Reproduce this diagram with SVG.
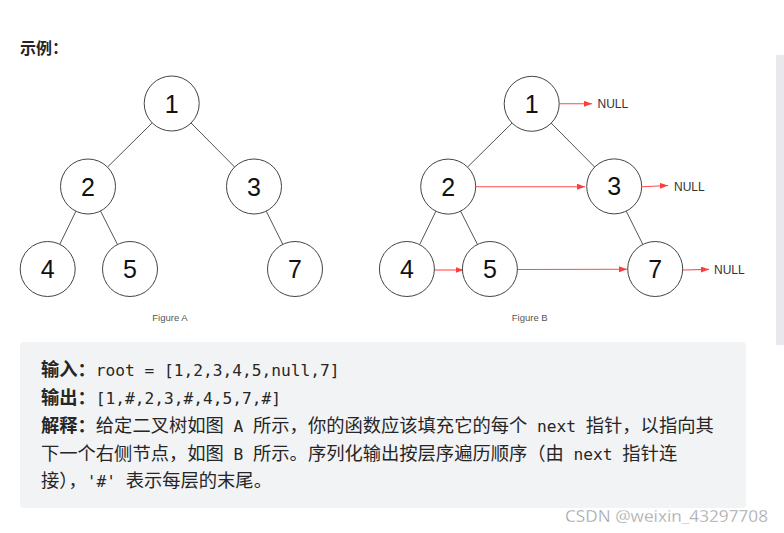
<svg xmlns="http://www.w3.org/2000/svg" width="784" height="533" viewBox="0 0 784 533">
<style>
.nd circle{fill:#fff;stroke:#444;stroke-width:1}
.nd text{font-family:"Liberation Sans",Arial,sans-serif;font-size:25px;fill:#111;text-anchor:middle}
.edge{stroke:#555;stroke-width:1;fill:none}
.nxt{stroke:#ff4d4d;stroke-width:1.1;fill:none;marker-end:url(#ah)}
.null{font-family:"Liberation Sans",Arial,sans-serif;font-size:12px;fill:#333}
.cap{font-family:"Liberation Sans",Arial,sans-serif;font-size:9.5px;fill:#555;text-anchor:middle}
.body{font-family:"Noto Sans CJK SC",sans-serif;font-size:18.3px;fill:#262626}
.b{font-weight:bold}
.m{font-family:"DejaVu Sans Mono","Liberation Mono",monospace;font-size:16.2px}
</style>
<defs>
<marker id="ah" viewBox="0 0 8 6" refX="8" refY="3" markerWidth="8" markerHeight="6" markerUnits="userSpaceOnUse" orient="auto">
<path d="M0,0 L8,3 L0,6 Z" fill="#ff3b3b"/>
</marker>
</defs>
<rect x="0" y="0" width="784" height="533" fill="#fff"/>
<rect x="776" y="55" width="8" height="290" fill="#e9e9ed"/>
<text x="20" y="53.5" font-family="'Noto Sans CJK SC',sans-serif" font-size="16" font-weight="bold" fill="#262626">示例：</text>

<g id="connectors">
<line class="edge" x1="152.2" y1="122.9" x2="107.5" y2="167.1"/>
<line class="edge" x1="191.1" y1="123" x2="234.6" y2="167"/>
<line class="edge" x1="75.9" y1="211.2" x2="59.8" y2="244.3"/>
<line class="edge" x1="100.5" y1="211" x2="117.5" y2="244.5"/>
<line class="edge" x1="266.2" y1="211.1" x2="282.8" y2="244.4"/>
<line class="edge" x1="512.2" y1="122.9" x2="467.5" y2="167.1"/>
<line class="edge" x1="551.1" y1="123" x2="594.6" y2="167"/>
<line class="edge" x1="435.9" y1="211.2" x2="419.8" y2="244.3"/>
<line class="edge" x1="460.5" y1="211" x2="477.5" y2="244.5"/>
<line class="edge" x1="626.2" y1="211.1" x2="642.8" y2="244.4"/>
<line class="nxt" x1="559.5" y1="103.8" x2="592" y2="103.8"/>
<line class="nxt" x1="476" y1="186.7" x2="585" y2="186.7"/>
<line class="nxt" x1="642" y1="186.7" x2="668" y2="185.5"/>
<line class="nxt" x1="434.5" y1="270" x2="463.5" y2="270"/>
<line class="nxt" x1="517.5" y1="269.5" x2="627" y2="269.3"/>
<line class="nxt" x1="683" y1="270" x2="709" y2="269.4"/>
</g>

<g id="nodeA1" class="nd"><circle cx="171.7" cy="103.5" r="27.5"/><text x="171.7" y="112.5">1</text></g>
<g id="nodeA2" class="nd"><circle cx="88" cy="186.5" r="27.5"/><text x="88" y="195.5">2</text></g>
<g id="nodeA3" class="nd"><circle cx="254" cy="186.5" r="27.5"/><text x="254" y="195.5">3</text></g>
<g id="nodeA4" class="nd"><circle cx="47.7" cy="269" r="27.5"/><text x="47.7" y="278">4</text></g>
<g id="nodeA5" class="nd"><circle cx="130" cy="269" r="27.5"/><text x="130" y="278">5</text></g>
<g id="nodeA7" class="nd"><circle cx="295" cy="269" r="27.5"/><text x="295" y="278">7</text></g>
<text class="cap" x="170" y="320.5">Figure A</text>

<g id="nodeB1" class="nd"><circle cx="531.7" cy="103.8" r="27.5"/><text x="531.7" y="112.8">1</text></g>
<g id="nodeB2" class="nd"><circle cx="448.2" cy="186.6" r="27.5"/><text x="448.2" y="195.6">2</text></g>
<g id="nodeB3" class="nd"><circle cx="614.2" cy="186.4" r="27.5"/><text x="614.2" y="195.4">3</text></g>
<g id="nodeB4" class="nd"><circle cx="406.9" cy="269" r="27.5"/><text x="406.9" y="278">4</text></g>
<g id="nodeB5" class="nd"><circle cx="489.9" cy="269" r="27.5"/><text x="489.9" y="278">5</text></g>
<g id="nodeB7" class="nd"><circle cx="655.2" cy="269" r="27.5"/><text x="655.2" y="278">7</text></g>
<g id="nullB1"><text class="null" x="597.5" y="108">NULL</text></g>
<g id="nullB3"><text class="null" x="674" y="191">NULL</text></g>
<g id="nullB7"><text class="null" x="714" y="274">NULL</text></g>
<text class="cap" x="529.7" y="320.5">Figure B</text>

<g id="example">
<rect x="20" y="342" width="726" height="166" rx="4" fill="#f2f3f5"/>
<text class="body" x="41" y="376" xml:space="preserve"><tspan class="b">输入：</tspan><tspan class="m">root = [1,2,3,4,5,null,7]</tspan></text>
<text class="body" x="41" y="404" xml:space="preserve"><tspan class="b">输出：</tspan><tspan class="m">[1,#,2,3,#,4,5,7,#]</tspan></text>
<text class="body" x="41" y="432" xml:space="preserve"><tspan class="b">解释：</tspan>给定二叉树如图<tspan class="m"> A </tspan>所示，你的函数应该填充它的每个<tspan class="m"> next </tspan>指针，以指向其</text>
<text class="body" x="41" y="460" xml:space="preserve">下一个右侧节点，如图<tspan class="m"> B </tspan>所示。序列化输出按层序遍历顺序（由<tspan class="m"> next </tspan>指针连</text>
<text class="body" x="41" y="487" xml:space="preserve">接），<tspan class="m">'#' </tspan>表示每层的末尾。</text>
</g>
<text x="565" y="521.5" font-family="'Open Sans','Noto Sans',sans-serif" font-size="16.5" fill="#9a9a9a" stroke="#fff" stroke-width="0.3" textLength="203" lengthAdjust="spacingAndGlyphs">CSDN @weixin_43297708</text>
</svg>
